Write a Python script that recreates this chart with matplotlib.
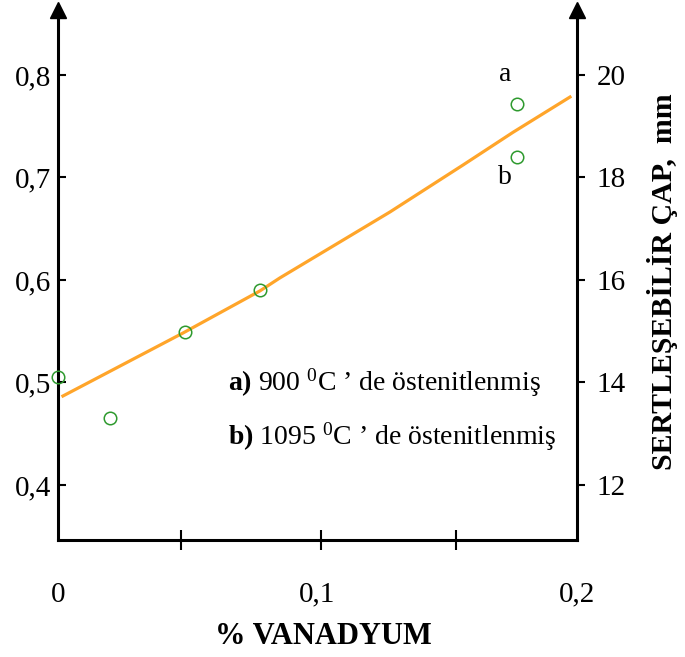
import matplotlib
matplotlib.use("Agg")
import matplotlib.pyplot as plt

plt.rcParams['font.family'] = ['Liberation Serif', 'DejaVu Serif']
plt.rcParams['mathtext.fontset'] = 'custom'
plt.rcParams['mathtext.rm'] = 'Liberation Serif'
plt.rcParams['mathtext.bf'] = 'Liberation Serif:bold'
plt.rcParams['mathtext.it'] = 'Liberation Serif:italic'

# measured points (% V, left axis value)
vanad = [0.0, 0.020, 0.049, 0.078, 0.177, 0.177]
deger = [0.505, 0.465, 0.549, 0.590, 0.772, 0.720]

# fitted curve
egri_x = [0.0019, 0.0482, 0.0778, 0.0855, 0.1279, 0.1561, 0.1753, 0.1973]
egri_y = [0.4868, 0.5483, 0.5893, 0.6020, 0.6663, 0.7122, 0.7440, 0.7785]

sol_ticks = [0.4, 0.5, 0.6, 0.7, 0.8]
sol_labels = ['0,4', '0,5', '0,6', '0,7', '0,8']
sag_ticks = [12, 14, 16, 18, 20]
x_ticks = [0.0, 0.1, 0.2]
x_labels = ['0', '0,1', '0,2']
x_minor = [0.0475, 0.1015, 0.1535]

fig = plt.figure(figsize=(6.85, 6.57), dpi=100)
ax = fig.add_axes([58/685, 117/657, 519/685, 530/657])

ax.plot(egri_x, egri_y, color='#FFA52A', lw=2.3, zorder=2)
ax.plot(vanad, deger, 'o', mfc='none', mec='#2E9A2E', ms=9, mew=1.1, clip_on=False, zorder=3)

ylo, yhi = 0.3463, 0.8634
ax.set_xlim(0, 0.2)
ax.set_ylim(ylo, yhi)

for s in ['left', 'right', 'bottom']:
    ax.spines[s].set_linewidth(2.2)
ax.spines['top'].set_visible(False)

ax.set_yticks(sol_ticks)
ax.set_yticklabels(sol_labels, fontsize=21)
ax.tick_params(axis='y', direction='in', length=6, width=1.5, pad=5)

ax.set_xticks(x_ticks)
ax.set_xticklabels(x_labels, fontsize=21)
ax.tick_params(axis='x', which='major', length=0, pad=30)
ax.set_xticks(x_minor, minor=True)
ax.tick_params(axis='x', which='minor', direction='inout', length=15, width=1.5)

ax2 = ax.twinx()
ax2.set_ylim(20 * ylo + 4, 20 * yhi + 4)
ax2.set_yticks(sag_ticks)
ax2.set_yticklabels([str(t) for t in sag_ticks], fontsize=21)
ax2.tick_params(axis='y', direction='out', length=6, width=1.5, pad=8)
for s in ['left', 'top', 'bottom', 'right']:
    ax2.spines[s].set_visible(False)

# arrow heads on top of the vertical axes
ax.plot([0, 1], [1, 1], '^', color='black', ms=11, transform=ax.transAxes, clip_on=False)

ax.text(0.1723, 0.80, 'a', fontsize=20, ha='center', va='center')
ax.text(0.1723, 0.70, 'b', fontsize=20, ha='center', va='center')
ax.text(0.0655, 0.4995, r"$\mathbf{a)}$ 900 $^{\mathrm{0}}$C ’ de östenitlenmiş",
        fontsize=20, ha='left', va='center')
ax.text(0.0655, 0.447, r"$\mathbf{b)}$ 1095 $^{\mathrm{0}}$C ’ de östenitlenmiş",
        fontsize=20, ha='left', va='center')

fig.text(323/685, 1 - 637/657, '% VANADYUM', fontsize=22, fontweight='bold',
         ha='center', va='center')
fig.text(662/685, 1 - 282/657, 'SERTLEŞEBİLİR ÇAP,  mm', fontsize=21.5, fontweight='bold',
         rotation=90, ha='center', va='center')

fig.savefig('out.png', dpi=100)
